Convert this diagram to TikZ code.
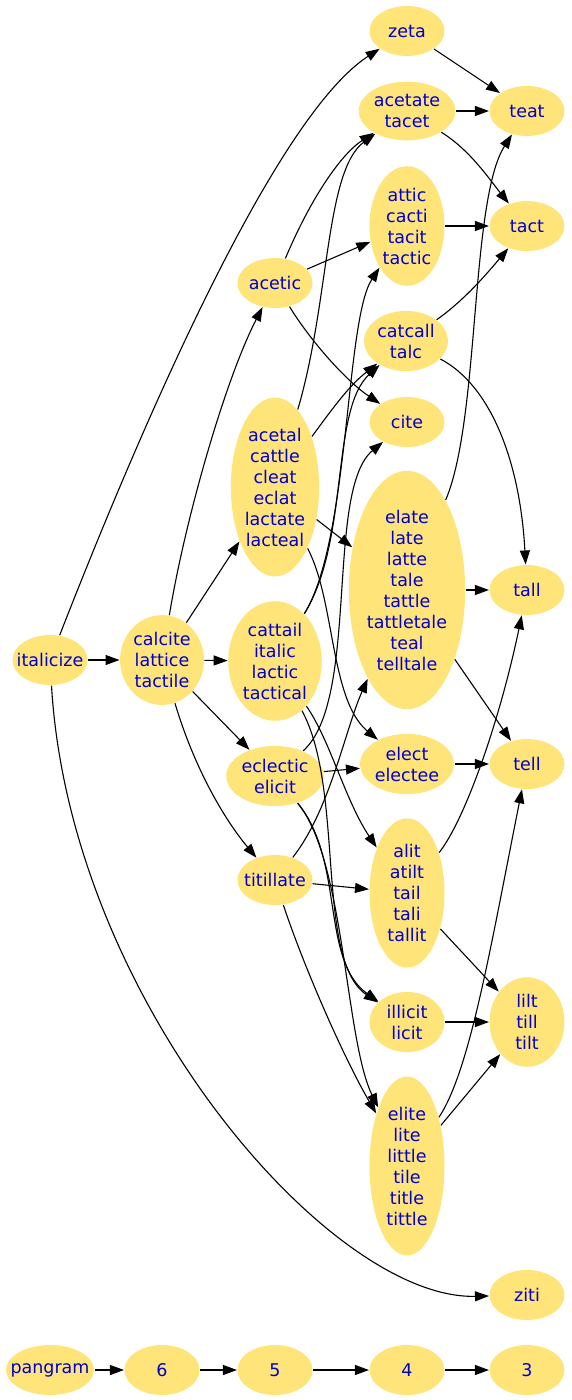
\documentclass[tikz,border=0pt]{standalone}
\usepackage{fontspec}
\setmainfont{DejaVu Sans}
\usetikzlibrary{shapes.geometric,arrows.meta}
\definecolor{wordfill}{RGB}{255,228,122}
\definecolor{wordink}{RGB}{0,0,205}
\begin{document}
\begin{tikzpicture}[x=1pt, y=-1pt, >={Triangle[length=14pt,width=10pt]}, line width=1.1pt,
  blob/.style={ellipse, fill=wordfill, text=wordink, font=\fontsize{17.5}{21}\selectfont, minimum width=75pt, minimum height=50pt, inner xsep=1pt, inner ysep=4pt},
  word/.style={blob, align=center},
  one/.style={blob, execute at begin node=\hbox to 0pt\bgroup\hss, execute at end node=\hss\egroup}]
  \useasboundingbox (0,0) rectangle (571,1400);
  \node[one] (italicize) at (50,660) {italicize};
  \node[word] (calcite) at (162,660) {calcite\\lattice\\tactile};
  \node[one] (acetic) at (275,283) {acetic};
  \node[word] (acetal) at (275,487) {acetal\\cattle\\cleat\\eclat\\lactate\\lacteal};
  \node[word] (cattail) at (275,661) {cattail\\italic\\lactic\\tactical};
  \node[word] (eclectic) at (275,776) {eclectic\\elicit};
  \node[one] (titillate) at (275,880) {titillate};
  \node[one] (zeta) at (407,31) {zeta};
  \node[word] (acetate) at (407,111) {acetate\\tacet};
  \node[word] (attic) at (407,226) {attic\\cacti\\tacit\\tactic};
  \node[word] (catcall) at (406,341) {catcall\\talc};
  \node[one] (cite) at (407,422) {cite};
  \node[word] (elate) at (407,590) {elate\\late\\latte\\tale\\tattle\\tattletale\\teal\\telltale};
  \node[word] (elect) at (407,764) {elect\\electee};
  \node[word] (alit) at (407,893) {alit\\atilt\\tail\\tali\\tallit};
  \node[word] (illicit) at (407,1022) {illicit\\licit};
  \node[word] (elite) at (407,1166) {elite\\lite\\little\\tile\\title\\tittle};
  \node[one] (teat) at (527,111) {teat};
  \node[one] (tact) at (527,226) {tact};
  \node[one] (tall) at (527,590) {tall};
  \node[one] (tell) at (527,764) {tell};
  \node[word] (lilt) at (527,1022) {lilt\\till\\tilt};
  \node[one] (ziti) at (527,1295) {ziti};
  \node[one, minimum width=88pt] (pangram) at (50,1370) {pangram};
  \node[one] (len6) at (162,1370) {6};
  \node[one] (len5) at (275,1370) {5};
  \node[one] (len4) at (407,1370) {4};
  \node[one] (len3) at (527,1370) {3};
  \draw[->] (italicize) -- (calcite);
  \draw[->] (italicize) .. controls (130,455) and (270,120) .. (zeta);
  \draw[->] (italicize) .. controls (70,1000) and (330,1300) .. (ziti);
  \draw[->] (calcite) .. controls (185,520) and (225,380) .. (acetic);
  \draw[->] (calcite) -- (acetal); \draw[->] (calcite) -- (cattail); \draw[->] (calcite) -- (eclectic);
  \draw[->] (calcite) .. controls (195,770) and (225,820) .. (titillate);
  \draw[->] (acetic) .. controls (310,200) and (340,155) .. (acetate);
  \draw[->] (acetic) -- (attic);
  \draw[->] (acetic) .. controls (310,340) and (345,380) .. (cite);
  \draw[->] (acetal) .. controls (330,300) and (325,170) .. (acetate);
  \draw[->] (acetal) .. controls (335,405) and (350,385) .. (catcall);
  \draw[->] (acetal) -- (elate);
  \draw[->] (acetal) .. controls (335,600) and (330,700) .. (elect);
  \draw[->] (cattail) .. controls (350,540) and (345,320) .. (attic);
  \draw[->] (cattail) .. controls (350,540) and (330,410) .. (catcall);
  \draw[->] (cattail) .. controls (330,740) and (345,800) .. (alit);
  \draw[->] (cattail) .. controls (345,790) and (315,960) .. (illicit);
  \draw[->] (eclectic) .. controls (360,700) and (325,490) .. (cite);
  \draw[->] (eclectic) -- (elect);
  \draw[->] (eclectic) .. controls (345,860) and (320,960) .. (illicit);
  \draw[->] (eclectic) .. controls (345,860) and (345,1040) .. (elite);
  \draw[->] (titillate) .. controls (330,810) and (345,730) .. (elate);
  \draw[->] (titillate) -- (alit);
  \draw[->] (titillate) .. controls (305,970) and (345,1060) .. (elite);
  \draw[->] (zeta) -- (teat); \draw[->] (acetate) -- (teat);
  \draw[->] (acetate) .. controls (470,150) and (490,180) .. (tact);
  \draw[->] (attic) -- (tact);
  \draw[->] (catcall) .. controls (465,300) and (490,270) .. (tact);
  \draw[->] (catcall) .. controls (490,385) and (520,460) .. (tall);
  \draw[->] (elate) .. controls (480,420) and (470,200) .. (teat);
  \draw[->] (elate) -- (tall); \draw[->] (elate) -- (tell);
  \draw[->] (elect) -- (tell);
  \draw[->] (alit) .. controls (465,820) and (500,720) .. (tall);
  \draw[->] (alit) -- (lilt); \draw[->] (illicit) -- (lilt);
  \draw[->] (elite) .. controls (470,1070) and (490,950) .. (tell);
  \draw[->] (elite) -- (lilt);
  \draw[->] (pangram) -- (len6); \draw[->] (len6) -- (len5); \draw[->] (len5) -- (len4); \draw[->] (len4) -- (len3);
\end{tikzpicture}
\end{document}
